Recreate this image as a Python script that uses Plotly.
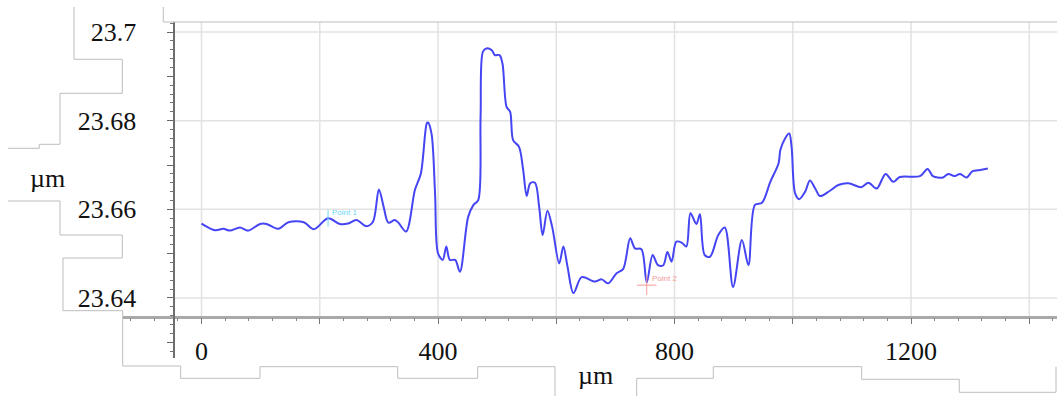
import plotly.graph_objects as go

# ---------------- data ----------------
profile_x = [0, 23, 37, 48, 65, 79, 99, 110, 130, 147, 173, 190, 214, 234, 248, 262, 279, 290,
             300, 308, 316, 327, 333, 346, 361, 371, 381, 383, 389, 395, 400, 408, 414, 420,
             429, 437, 451, 460, 468, 472, 476, 482, 491, 496, 504, 509, 516, 522, 527, 537,
             544, 550, 556, 564, 571, 577, 585, 593, 605, 612, 619, 629, 643, 665, 677, 688,
             702, 713, 725, 733, 744, 753, 763, 772, 781, 788, 795, 803, 812, 820, 827, 837,
             843, 851, 860, 874, 885, 899, 914, 925, 936, 948, 962, 976, 979, 987, 994, 998,
             1004, 1011, 1021, 1029, 1038, 1046, 1063, 1077, 1094, 1116, 1128, 1142, 1157,
             1170, 1181, 1215, 1228, 1237, 1254, 1263, 1273, 1283, 1294, 1304, 1317, 1330]
profile_y = [23.6568, 23.6553, 23.6556, 23.6552, 23.6559, 23.6552, 23.6567, 23.6567, 23.6556,
             23.6571, 23.6571, 23.6555, 23.6580, 23.6567, 23.6568, 23.6576, 23.6562, 23.6572,
             23.6645, 23.6606, 23.6570, 23.6576, 23.6570, 23.6550, 23.6644, 23.6681, 23.6794,
             23.6796, 23.6771, 23.6636, 23.6501, 23.6486, 23.6516, 23.6486, 23.6486, 23.6459,
             23.6583, 23.6610, 23.6621, 23.6809, 23.6956, 23.6963, 23.6959, 23.6948, 23.6948,
             23.6929, 23.6831, 23.6820, 23.6756, 23.6741, 23.6689, 23.6630, 23.6659, 23.6660,
             23.6606, 23.6542, 23.6597, 23.6561, 23.6478, 23.6516, 23.6471, 23.6411, 23.6447,
             23.6437, 23.6442, 23.6433, 23.6456, 23.6465, 23.6535, 23.6512, 23.6510, 23.6435,
             23.6497, 23.6474, 23.6474, 23.6504, 23.6482, 23.6527, 23.6525, 23.6516, 23.6591,
             23.6567, 23.6589, 23.6497, 23.6493, 23.6542, 23.6559, 23.6425, 23.6531, 23.6474,
             23.6610, 23.6615, 23.6662, 23.6704, 23.6734, 23.6760, 23.6771, 23.6741, 23.6636,
             23.6623, 23.6640, 23.6665, 23.6647, 23.6630, 23.6642, 23.6655, 23.6659, 23.6650,
             23.6660, 23.6647, 23.6680, 23.6662, 23.6673, 23.6675, 23.6691, 23.6675, 23.6672,
             23.6680, 23.6675, 23.6680, 23.6672, 23.6686, 23.6689, 23.6692]

point_names = ["Point 1", "Point 2"]
point_x = [214, 753]
point_y = [23.658, 23.6429]
point_label_x = [242, 783]
point_label_y = [23.6594, 23.6445]

x_grid = [0, 200, 400, 600, 800, 1000, 1200, 1400]
x_tick_vals = [0, 200, 400, 600, 800, 1000, 1200, 1400]
x_tick_text = ["0", "", "400", "", "800", "", "1200", ""]
y_grid = [23.64, 23.66, 23.68, 23.70]
y_tick_vals = [23.63, 23.64, 23.65, 23.66, 23.67, 23.68, 23.69, 23.70]
y_tick_text = ["", "23.64", "", "23.66", "", "23.68", "", "23.7"]
x_title = "µm"
y_title = "µm"

# ---------------- layout constants ----------------
W, H = 1057, 396
ML, MR, MT, MB = 123, 0, 22, 38
PW, PH = W - ML - MR, H - MT - MB
X_RANGE = [-132.8, 1446.9]
Y_RANGE = [23.62646, 23.70227]
Y_AXIS_AT_X = -45.7      # where the vertical axis crosses
X_AXIS_AT_Y = 23.6358    # where the horizontal axis crosses

FONT = "Liberation Serif"
GRID = "#e2e2e2"


def px(xp):
    return (xp - ML) / PW


def py(yp):
    return (H - MB - yp) / PH


fig = go.Figure()

fig.add_trace(go.Scatter(
    x=profile_x, y=profile_y, mode="lines",
    line=dict(color="#4545f3", width=2, shape="spline", smoothing=0.9),
    showlegend=False, hoverinfo="skip"))

point_colors = ["#6fd8f5", "#f59a9a"]
point_symbols = ["line-ns-open", "cross-thin-open"]
point_sizes = [12, 14]
for i in range(len(point_names)):
    fig.add_trace(go.Scatter(
        x=[point_x[i]], y=[point_y[i]], mode="markers",
        marker=dict(symbol=point_symbols[i], size=point_sizes[i], color=point_colors[i],
                    line=dict(width=1, color=point_colors[i])),
        showlegend=False, hoverinfo="skip"))

shapes = []
for gx in x_grid:
    shapes.append(dict(type="line", xref="x", yref="y", x0=gx, x1=gx, y0=X_AXIS_AT_Y, y1=Y_RANGE[1],
                       line=dict(color=GRID, width=1.5), layer="below"))
for gy in y_grid:
    shapes.append(dict(type="line", xref="x", yref="y", x0=Y_AXIS_AT_X, x1=X_RANGE[1], y0=gy, y1=gy,
                       line=dict(color=GRID, width=1.5), layer="below"))

# thin grey outlines of the surrounding text boxes in the picture
outlines = [
    [(74, 7), (74, 59.3), (122.3, 59.3), (122.3, 93.3), (60, 93.3), (60, 144.3), (39.3, 144.3),
     (39.3, 148.3), (8, 148.3)],
    [(8, 201), (60, 201), (60, 235), (122.3, 235), (122.3, 258), (63, 258), (63, 310.7),
     (122.7, 310.7), (122.7, 366), (180.7, 366), (180.7, 378.3), (260, 378.3), (260, 366.7),
     (397.7, 366.7), (397.7, 378.3), (477.7, 378.3), (477.7, 366.7), (555, 366.7), (555, 396)],
    [(636.7, 396), (636.7, 378.3), (713.3, 378.3), (713.3, 366.7), (861.7, 366.7), (861.7, 379.3),
     (959.3, 379.3), (959.3, 392.3), (1056, 392.3), (1056, 366.7)],
    [(163.3, 7), (163.3, 22), (1057, 22)],
]
for poly in outlines:
    path = "M " + " L ".join(f"{px(a):.5f},{py(b):.5f}" for a, b in poly)
    shapes.append(dict(type="path", xref="paper", yref="paper", path=path,
                       line=dict(color="#bdbdbd", width=1), layer="above"))

x_pos = (X_AXIS_AT_Y - Y_RANGE[0]) / (Y_RANGE[1] - Y_RANGE[0])
y_pos = (Y_AXIS_AT_X - X_RANGE[0]) / (X_RANGE[1] - X_RANGE[0])

annotations = [
    dict(text=y_title, xref="paper", yref="paper", x=px(47), y=py(178), showarrow=False,
         xanchor="center", yanchor="middle", font=dict(family=FONT, size=26, color="#111111")),
    dict(text=x_title, xref="paper", yref="paper", x=px(595), y=py(375), showarrow=False,
         xanchor="center", yanchor="middle", font=dict(family=FONT, size=26, color="#111111")),
]
for i in range(len(point_names)):
    annotations.append(dict(text=point_names[i], xref="x", yref="y", x=point_label_x[i],
                            y=point_label_y[i], showarrow=False, xanchor="center", yanchor="middle",
                            font=dict(family="Arial", size=8, color=point_colors[i])))

fig.update_layout(
    width=W, height=H,
    margin=dict(l=ML, r=MR, t=MT, b=MB, pad=0),
    paper_bgcolor="white", plot_bgcolor="white",
    font=dict(family=FONT, size=26, color="#111111"),
    shapes=shapes,
    xaxis=dict(range=X_RANGE, anchor="free", position=x_pos, showgrid=False, zeroline=False,
               showline=True, linecolor="#a9a9a9", linewidth=2.5,
               tickmode="array", tickvals=x_tick_vals, ticktext=x_tick_text,
               ticks="outside", ticklen=6, tickwidth=1, tickcolor="#777777",
               ticklabelstandoff=4,
               minor=dict(tickmode="linear", tick0=0, dtick=40, ticks="outside", ticklen=3,
                          tickcolor="#888888", tickwidth=1, showgrid=False)),
    yaxis=dict(range=Y_RANGE, anchor="free", position=y_pos, showgrid=False, zeroline=False,
               showline=True, linecolor="#6e6e6e", linewidth=2,
               tickmode="array", tickvals=y_tick_vals, ticktext=y_tick_text,
               ticks="outside", ticklen=6, tickwidth=1, tickcolor="#666666",
               ticklabelstandoff=26,
               minor=dict(tickmode="linear", tick0=23.6, dtick=0.002, ticks="outside", ticklen=3,
                          tickcolor="#777777", tickwidth=1, showgrid=False)),
    annotations=annotations,
)

fig.write_html("out.html")
